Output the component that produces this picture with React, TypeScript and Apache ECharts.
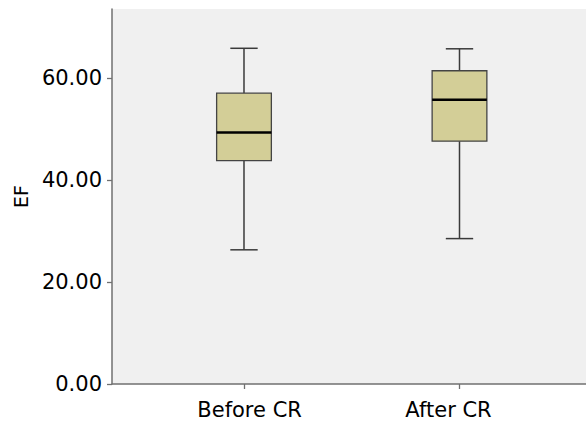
import React, { useEffect, useRef } from "react";
import * as echarts from "echarts";

const categories = ["Before CR", "After CR"];
const whiskerLow = [26.3, 28.5];
const q1 = [43.8, 47.6];
const medians = [49.3, 55.7];
const q3 = [57.0, 61.4];
const whiskerHigh = [65.8, 65.7];
const yTicks = [0, 20, 40, 60];
const labelPositions = [0.026, 0.949];

export default function App() {
  const ref = useRef<HTMLDivElement>(null);
  useEffect(() => {
    if (!ref.current) return;
    const chart = echarts.init(ref.current, null, { renderer: "svg" });
    const data = categories.map((_, i) => [i, whiskerLow[i], q1[i], medians[i], q3[i], whiskerHigh[i]]);
    const font = "DejaVu Sans";
    chart.setOption({
      animation: false,
      grid: { left: 112, right: 0, top: 9, bottom: 41, show: true, backgroundColor: "#f0f0f0", borderWidth: 0 },
      xAxis: {
        type: "value",
        min: -0.6125,
        max: 1.587,
        splitLine: { show: false },
        axisLine: { show: true, onZero: false, lineStyle: { color: "#707070", width: 1.5 } },
        axisTick: { show: true, length: 5, customValues: [0, 1], lineStyle: { color: "#707070", width: 1.3 } },
        axisLabel: {
          customValues: labelPositions,
          formatter: (v: number) => categories[Math.round(v)] ?? "",
          color: "#000",
          fontFamily: font,
          fontSize: 21,
          margin: 15,
        },
      },
      yAxis: {
        type: "value",
        min: 0,
        max: 73.5,
        name: "EF",
        nameLocation: "middle",
        nameGap: 80,
        nameRotate: 90,
        nameTextStyle: { color: "#000", fontFamily: font, fontSize: 19 },
        splitLine: { show: false },
        axisLine: { show: true, onZero: false, lineStyle: { color: "#707070", width: 1.5 } },
        axisTick: { show: true, length: 5, customValues: yTicks, lineStyle: { color: "#707070", width: 1.3 } },
        axisLabel: {
          customValues: yTicks,
          formatter: (v: number) => v.toFixed(2),
          color: "#000",
          fontFamily: font,
          fontSize: 21,
          margin: 10,
        },
      },
      series: [
        {
          type: "custom",
          data,
          encode: { x: 0, y: [1, 2, 3, 4, 5] },
          renderItem: (params: any, api: any) => {
            const x = api.value(0);
            const pLow = api.coord([x, api.value(1)]);
            const pQ1 = api.coord([x, api.value(2)]);
            const pMed = api.coord([x, api.value(3)]);
            const pQ3 = api.coord([x, api.value(4)]);
            const pHigh = api.coord([x, api.value(5)]);
            const unit = api.size([1, 0])[0];
            const boxW = unit * 0.254;
            const capW = boxW / 2;
            const cx = pMed[0];
            const lineStyle = { stroke: "#3a3a3a", lineWidth: 1.5 };
            return {
              type: "group",
              children: [
                { type: "line", shape: { x1: cx, y1: pHigh[1], x2: cx, y2: pQ3[1] }, style: lineStyle },
                { type: "line", shape: { x1: cx, y1: pQ1[1], x2: cx, y2: pLow[1] }, style: lineStyle },
                { type: "line", shape: { x1: cx - capW / 2, y1: pHigh[1], x2: cx + capW / 2, y2: pHigh[1] }, style: lineStyle },
                { type: "line", shape: { x1: cx - capW / 2, y1: pLow[1], x2: cx + capW / 2, y2: pLow[1] }, style: lineStyle },
                {
                  type: "rect",
                  shape: { x: cx - boxW / 2, y: pQ3[1], width: boxW, height: pQ1[1] - pQ3[1] },
                  style: { fill: "#d3ce97", stroke: "#444444", lineWidth: 1.3 },
                },
                { type: "line", shape: { x1: cx - boxW / 2, y1: pMed[1], x2: cx + boxW / 2, y2: pMed[1] }, style: { stroke: "#000", lineWidth: 2.5 } },
              ],
            };
          },
        },
      ],
    });
    return () => chart.dispose();
  }, []);
  return <div ref={ref} style={{ width: 586, height: 425, position: "absolute", left: 0, top: 0 }} />;
}
